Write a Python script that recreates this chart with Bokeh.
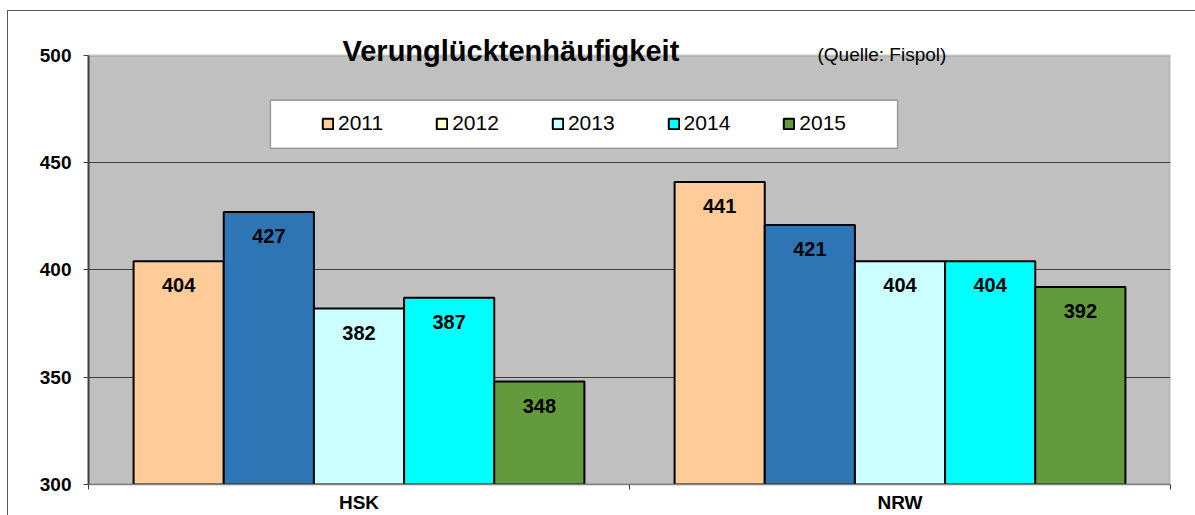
from bokeh.plotting import figure
from bokeh.models import (ColumnDataSource, Range1d, FixedTicker, LabelSet, Label,
                          Legend, LegendItem, BoxAnnotation)
from bokeh.core.properties import value
from bokeh.embed import file_html
from bokeh.resources import INLINE

# ---------------- data ----------------
categories = ["HSK", "NRW"]
years = ["2011", "2012", "2013", "2014", "2015"]
values_2011 = [404, 441]
values_2012 = [427, 421]
values_2013 = [382, 404]
values_2014 = [387, 404]
values_2015 = [348, 392]
y_ticks = [300, 350, 400, 450, 500]
title_text = "Verunglücktenhäufigkeit"
source_text = "(Quelle: Fispol)"

bar_colors = ["#FFCC99", "#2E75B6", "#CCFFFF", "#00FFFF", "#629A3C"]
legend_colors = ["#FFCC99", "#FFFFCC", "#CCFFFF", "#00FFFF", "#629A3C"]
series = [values_2011, values_2012, values_2013, values_2014, values_2015]

FONT = "Liberation Sans"
W, H = 1195, 515
# plot-area (grey box) edges in canvas px
FL, FR, FT, FB = 88, 1170, 55, 485
Y0, Y1 = y_ticks[0], y_ticks[-1]
NC = len(categories)
PX_PER_Y = (FB - FT) / (Y1 - Y0)
PX_PER_X = (FR - FL) / NC


def dx(px):
    return (px - FL) / PX_PER_X


def dy(py):
    return Y1 - (py - FT) / PX_PER_Y


# the Bokeh frame reaches the top edge of the canvas so that the
# title texts live inside it; the grey plot area is drawn as a box
p = figure(width=W, height=H,
           x_range=Range1d(0, NC), y_range=Range1d(Y0, dy(0)),
           output_backend="svg", toolbar_location=None,
           min_border_left=FL, min_border_right=W - FR,
           min_border_top=0, min_border_bottom=H - FB)

p.background_fill_alpha = 0
p.border_fill_alpha = 0
p.outline_line_color = None
# outer chart border (left and top edges visible in the crop)
p.styles = {
    "background": ("linear-gradient(#595959,#595959) 7px 10px / 1px calc(100% - 10px) no-repeat, "
                   "linear-gradient(#595959,#595959) 7px 10px / calc(100% - 7px) 1px no-repeat, "
                   "#ffffff"),
}

# grey plot area
p.add_layout(BoxAnnotation(left=0, right=NC, bottom=Y0, top=Y1, level="image",
                           fill_color="#C0C0C0", fill_alpha=1,
                           line_color="#808080", line_width=2.5))

# bars
nbar = len(years)
bw = 1.0 / (nbar + 1)
for i, (yr, vals) in enumerate(zip(years, series)):
    off = (i - (nbar - 1) / 2) * bw
    xs = [k + 0.5 + off for k in range(NC)]
    src = ColumnDataSource(dict(x=xs, top=vals, lab=[str(v) for v in vals]))
    p.vbar(x="x", top="top", bottom=Y0, width=bw, source=src,
           fill_color=bar_colors[i], line_color="black", line_width=2)
    p.add_layout(LabelSet(x="x", y="top", text="lab", source=src, y_offset=-24,
                          text_align="center", text_baseline="middle",
                          text_font=value(FONT), text_font_size=value("20px"),
                          text_font_style=value("bold"), text_color="black"))

# legend (swatch colours as in the original chart)
p.add_layout(BoxAnnotation(left=dx(270), right=dx(897), top=dy(100), bottom=dy(148),
                           fill_color="white", fill_alpha=1, line_color="black", line_width=1.5))
items = []
nan = float("nan")
for i, yr in enumerate(years):
    r = p.vbar(x=[nan], top=[nan], bottom=Y0, width=bw, fill_color=legend_colors[i],
               line_color="black", line_width=2)
    items.append(LegendItem(label=yr, renderers=[r]))
legend = Legend(items=items, orientation="horizontal", location=(221, 337),
                glyph_width=13, glyph_height=13, label_standoff=4, spacing=52,
                padding=12, margin=0,
                label_text_font=FONT, label_text_font_size="21px", label_text_color="black",
                border_line_alpha=0, background_fill_alpha=0)
p.add_layout(legend, "center")

# title and source
p.add_layout(Label(x=dx(342), y=dy(51), text=title_text, text_align="left",
                   text_baseline="alphabetic", text_font=FONT, text_font_size="29px",
                   text_font_style="bold", text_color="black", level="overlay"))
p.add_layout(Label(x=dx(817), y=dy(54), text=source_text, text_align="left",
                   text_baseline="alphabetic", text_font=FONT, text_font_size="19px",
                   text_color="black", level="overlay"))

# axes and grid
p.xgrid.visible = False
p.ygrid.ticker = FixedTicker(ticks=y_ticks[1:-1])
p.ygrid.grid_line_color = "#404040"
p.ygrid.grid_line_width = 1

ya = p.yaxis[0]
ya.ticker = FixedTicker(ticks=y_ticks)
ya.bounds = (Y0, Y1)
ya.axis_line_color = "#404040"
ya.axis_line_width = 2
ya.major_tick_line_color = "#404040"
ya.major_tick_out = 5
ya.major_tick_in = 0
ya.minor_tick_line_color = None
ya.major_label_standoff = 12
ya.major_label_text_font = FONT
ya.major_label_text_font_size = "19px"
ya.major_label_text_font_style = "bold"
ya.major_label_text_color = "black"

xa = p.xaxis[0]
xa.ticker = FixedTicker(ticks=[k + 0.5 for k in range(NC)], minor_ticks=list(range(NC + 1)))
xa.bounds = (0, NC)
xa.major_label_overrides = {k + 0.5: c for k, c in enumerate(categories)}
xa.axis_line_color = "#808080"
xa.axis_line_width = 1.5
xa.major_tick_line_color = None
xa.major_tick_out = 0
xa.major_tick_in = 0
xa.minor_tick_line_color = "#404040"
xa.minor_tick_out = 5
xa.minor_tick_in = 0
xa.major_label_standoff = 2
xa.major_label_text_font = FONT
xa.major_label_text_font_size = "19px"
xa.major_label_text_font_style = "bold"
xa.major_label_text_color = "black"

open("out.html", "w").write(file_html(p, INLINE))
